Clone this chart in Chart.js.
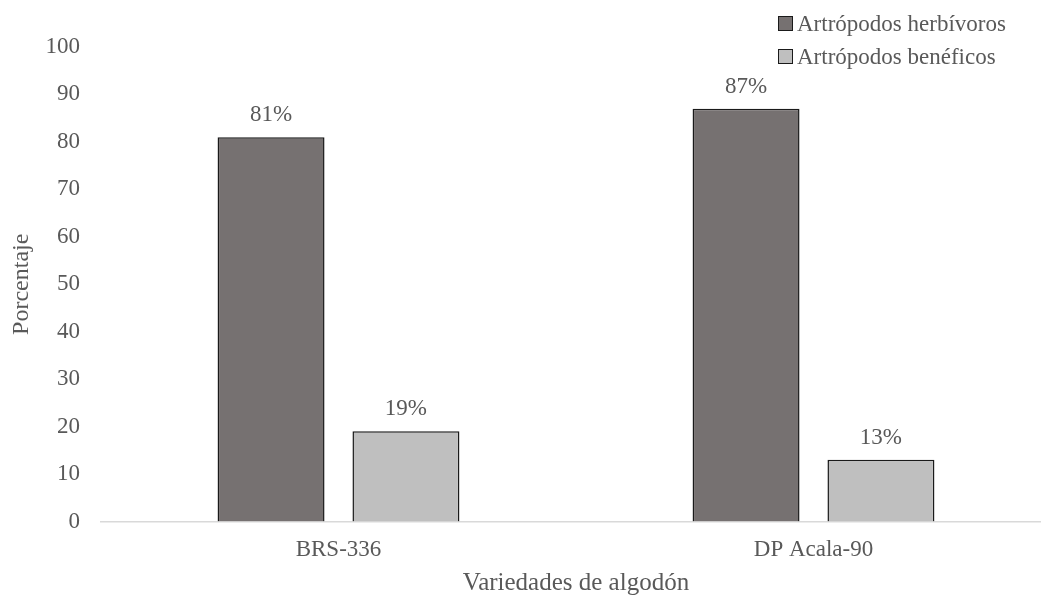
<!DOCTYPE html>
<html>
<head>
<meta charset="utf-8">
<script src="https://cdn.jsdelivr.net/npm/chart.js@4.4.1/dist/chart.umd.min.js"></script>
<style>
	html, body { margin: 0; padding: 0; background: #fff; overflow: hidden; }
	#wrap { position: relative; width: 1060px; height: 600px; }
	#legend { position: absolute; left: 778px; top: 7px; font-family: "Liberation Serif", "Times New Roman", serif; font-size: 23px; color: #595959; }
	.item { display: flex; align-items: center; height: 33px; }
	.box { width: 13px; height: 13px; border: 1px solid #1a1a1a; margin-right: 4px; }
</style>
</head>
<body>
<div id="wrap">
	<canvas id="barChart" width="1060" height="600"></canvas>
	<div id="legend"></div>
</div>
<script>
// values (%)
const categories = ["BRS-336", "DP Acala-90"];
const herbivoros = [81, 87];
const beneficos = [19, 13];
const seriesNames = ["Artrópodos herbívoros", "Artrópodos benéficos"];
const yTicks = [0, 10, 20, 30, 40, 50, 60, 70, 80, 90, 100];

const textColor = "#595959";
const serif = "'Liberation Serif', 'Times New Roman', serif";

// percent labels above each bar
const barLabels = {
	id: "barLabels",
	afterDatasetsDraw(chart) {
		const ctx = chart.ctx;
		ctx.save();
		ctx.font = "23px " + serif;
		ctx.fillStyle = textColor;
		ctx.textAlign = "center";
		ctx.textBaseline = "alphabetic";
		chart.data.datasets.forEach((ds, i) => {
			chart.getDatasetMeta(i).data.forEach((bar, j) => {
				ctx.fillText(ds.data[j] + "%", bar.x, bar.y - 16);
			});
		});
		ctx.restore();
	},
};

const ctx = document.getElementById("barChart");
const chart = new Chart(ctx, {
	type: "bar",
	data: {
		labels: categories,
		datasets: [
			{
				label: seriesNames[0],
				data: herbivoros,
				backgroundColor: "#767171",
				borderColor: "#1a1a1a",
				borderWidth: 1.5,
			},
			{
				label: seriesNames[1],
				data: beneficos,
				backgroundColor: "#bfbfbf",
				borderColor: "#1a1a1a",
				borderWidth: 1.5,
			},
		],
	},
	options: {
		responsive: false,
		animation: false,
		layout: { padding: { left: 0, top: 47, right: 9, bottom: 0 } },
		datasets: {
			bar: { barPercentage: 0.793, categoryPercentage: 0.568 },
		},
		plugins: {
			legend: { display: false },
			tooltip: { enabled: false },
		},
		scales: {
			x: {
				grid: { display: false, drawTicks: false },
				border: { display: true, color: "#d9d9d9", width: 1.5 },
				ticks: {
					color: textColor,
					font: { family: serif, size: 23 },
					padding: 15,
				},
				title: {
					display: true,
					text: "Variedades de algodón",
					color: textColor,
					font: { family: serif, size: 25 },
					padding: { top: 0, bottom: 2 },
				},
				afterFit(scale) {
					scale.height = 78.5;
				},
			},
			y: {
				min: 0,
				max: 100,
				afterBuildTicks(scale) {
					scale.ticks = yTicks.map((v) => ({ value: v }));
				},
				grid: { display: false, drawTicks: false },
				border: { display: false },
				ticks: {
					color: textColor,
					font: { family: serif, size: 23 },
					padding: 21,
				},
				title: {
					display: true,
					text: "Porcentaje",
					color: textColor,
					font: { family: serif, size: 24 },
					padding: { top: 7, bottom: 0 },
				},
				afterFit(scale) {
					scale.width = 101;
				},
			},
		},
	},
	plugins: [barLabels],
});

// legend stacked at the top right
const legendEl = document.getElementById("legend");
chart.data.datasets.forEach((ds) => {
	const item = document.createElement("div");
	item.className = "item";
	const box = document.createElement("span");
	box.className = "box";
	box.style.background = ds.backgroundColor;
	const label = document.createElement("span");
	label.textContent = ds.label;
	item.appendChild(box);
	item.appendChild(label);
	legendEl.appendChild(item);
});
</script>
</body>
</html>
